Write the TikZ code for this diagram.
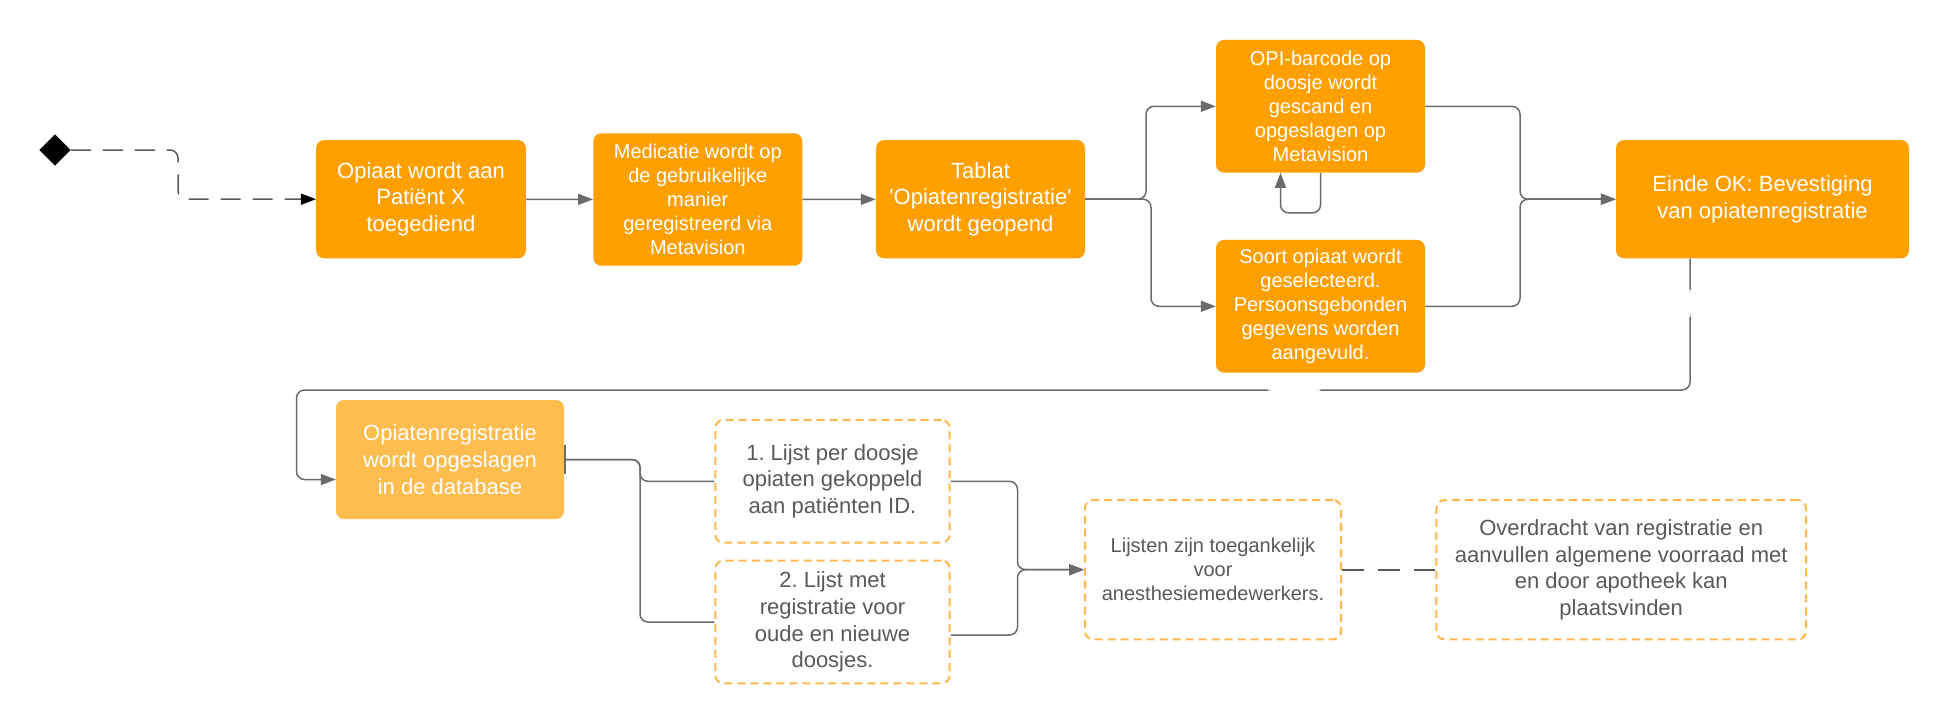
\documentclass[tikz,border=0pt]{standalone}
\usepackage{fontspec}
\setmainfont{Liberation Sans}
\usetikzlibrary{positioning,arrows.meta,shapes.geometric}
\definecolor{opi}{HTML}{FFA000}
\definecolor{opilight}{HTML}{FFBC4F}
\definecolor{rim}{HTML}{FFB84D}
\definecolor{lijn}{HTML}{6B6B6B}
\definecolor{tekst}{HTML}{595959}
\frenchspacing
\tikzset{>={Triangle[length=15pt,width=11pt]},
  start/.style={diamond,fill=black,minimum size=31.4pt,inner sep=0pt},
  proc/.style={rectangle,rounded corners=8pt,fill=opi,text=white,align=center,inner sep=0pt},
  procl/.style={proc,fill=opilight},
  note/.style={rectangle,rounded corners=8pt,draw=rim,line width=2pt,dash pattern=on 8pt off 5pt,fill=white,text=tekst,align=center,inner sep=0pt},
  big/.style={font=\fontsize{22}{26.7}\selectfont},
  small/.style={font=\fontsize{20}{23.9}\selectfont},
  flow/.style={draw=lijn,line width=1.5pt,rounded corners=8pt},
  hole/.style={fill=white,inner sep=0pt}}
\begin{document}
\begin{tikzpicture}[x=1pt,y=1pt]
\useasboundingbox (0,0) rectangle (1950,-723);
% bovenste rij
\node[start] (S) at (55,-150) {};
\node[proc,big,minimum width=209.7pt,minimum height=118.3pt] (A) at (421,-199.2) {Opiaat wordt aan\\Patiënt X\\toegediend};
\node[proc,small,minimum width=209pt,minimum height=132.4pt] (B) at (697.8,-199.5) {Medicatie wordt op\\de gebruikelijke\\manier\\geregistreerd via\\Metavision};
\node[proc,big,minimum width=209pt,minimum height=118.3pt] (C) at (980.5,-199.2) {Tablat\\\textquotesingle Opiatenregistratie\textquotesingle\\wordt geopend};
\node[proc,small,minimum width=209pt,minimum height=132.7pt] (D) at (1320.5,-106.3) {OPI-barcode op\\doosje wordt\\gescand en\\opgeslagen op\\Metavision};
\node[proc,small,minimum width=209pt,minimum height=132.7pt] (E) at (1320.5,-306.3) {Soort opiaat wordt\\geselecteerd.\\Persoonsgebonden\\gegevens worden\\aangevuld.};
\node[proc,big,minimum width=293pt,minimum height=118.3pt] (F) at (1762.5,-199.2) {Einde OK: Bevestiging\\van opiatenregistratie};
% onderste rij
\node[procl,big,minimum width=228pt,minimum height=119pt] (G) at (450,-459.5) {Opiatenregistratie\\wordt opgeslagen\\in de database};
\node[note,big,minimum width=234.3pt,minimum height=122.7pt] (H) at (832.5,-481.3) {1. Lijst per doosje\\opiaten gekoppeld\\aan patiënten ID.};
\node[note,big,minimum width=234.3pt,minimum height=122.7pt] (K) at (832.5,-622) {2. Lijst met\\registratie voor\\oude en nieuwe\\doosjes.};
\node[note,small,minimum width=256pt,minimum height=139.3pt] (L) at (1213,-569.7) {Lijsten zijn toegankelijk\\voor\\anesthesiemedewerkers.};
\node[note,big,minimum width=369.6pt,minimum height=139.3pt] (M) at (1621.2,-569.7) {Overdracht van registratie en\\aanvullen algemene voorraad met\\en door apotheek kan\\plaatsvinden};
% verbindingen
\coordinate (P) at (1146,-199.2);
\coordinate (Q) at (1151,-199.2);
\coordinate (R) at (1520,-199.2);
\coordinate (T) at (640,-459.5);
\coordinate (U) at (1017.5,-569.7);
\draw[flow,draw=tekst,dash pattern=on 20pt off 12pt,-{Triangle[length=15pt,width=11pt,black]}] (S.east) -- (178,-150) -- (178,-199.2) -- (A.west);
\draw[flow,->] (A) -- (B);
\draw[flow,->] (B) -- (C);
\draw[flow,->] (C.east) -- (P) |- (D.west);
\draw[flow,->] (C.east) -- (Q) |- (E.west);
\draw[flow,->] (D.south) -- ++(0,-40) -| ([xshift=-40pt]D.south);
\draw[flow,->] (D.east) -| (R) -- (F.west);
\draw[flow,->] (E.east) -| (R) -- (F.west);
\draw[flow,->] ([xshift=-72.5pt]F.south) -- node[hole,pos=.34,minimum width=6pt,minimum height=26.7pt]{} (1690,-390)
  -- node[hole,pos=.284,minimum width=52pt,minimum height=6pt]{} (296.5,-390) |- ([yshift=-20pt]G.west);
\draw[flow,{Bar[width=29pt]}-] (G.east) -- (T) |- (H.west);
\draw[flow] (G.east) -- (T) |- (K.west);
\draw[flow,->] (H.east) -| (U) -- (L.west);
\draw[flow,->] ([yshift=-13pt]K.east) -| (U) -- (L.west);
\draw[flow,draw=tekst,line width=2pt,dash pattern=on 22pt off 14pt] (L) -- (M);
\end{tikzpicture}
\end{document}
